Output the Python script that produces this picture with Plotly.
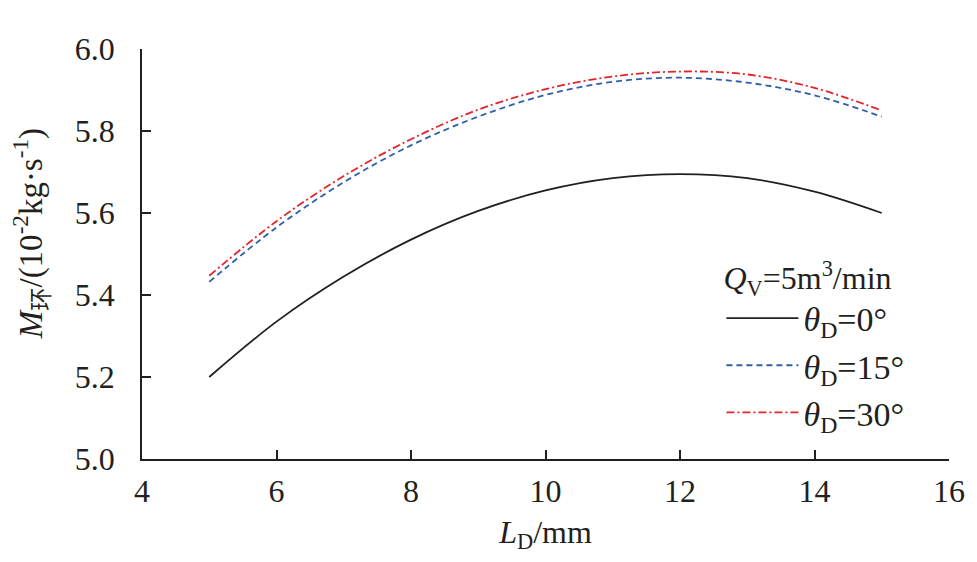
import plotly.graph_objects as go

# nozzle length L_D (mm)
ld = [5, 6, 7, 8, 9, 10, 11, 12, 13, 14, 15]

# mass flow M (10^-2 kg/s) for each nozzle angle
m_0 = [5.200, 5.335, 5.445, 5.535, 5.605, 5.655, 5.685, 5.695, 5.685, 5.652, 5.600]
m_15 = [5.432, 5.565, 5.675, 5.765, 5.835, 5.888, 5.920, 5.930, 5.918, 5.887, 5.835]
m_30 = [5.447, 5.580, 5.690, 5.780, 5.852, 5.902, 5.933, 5.945, 5.938, 5.905, 5.850]

names = ["<i>θ</i><sub>D</sub>=0°", "<i>θ</i><sub>D</sub>=15°", "<i>θ</i><sub>D</sub>=30°"]

ink = "#231f20"
font = "Liberation Serif, Noto Sans CJK SC, serif"

fig = go.Figure()
fig.add_trace(go.Scatter(x=ld, y=m_0, mode="lines", name=names[0],
                         line=dict(color=ink, width=1.8, shape="spline")))
fig.add_trace(go.Scatter(x=ld, y=m_15, mode="lines", name=names[1],
                         line=dict(color="#2f5fa8", width=1.8, dash="6px,4px", shape="spline")))
fig.add_trace(go.Scatter(x=ld, y=m_30, mode="lines", name=names[2],
                         line=dict(color="#e0262b", width=1.8, dash="8px,3px,2px,3px", shape="spline")))

# page body has an 8px margin, so margins are shifted to compensate
fig.update_layout(
    width=977, height=562,
    margin=dict(l=134, r=36, t=41, b=111, autoexpand=False),
    paper_bgcolor="white", plot_bgcolor="white",
    font=dict(family=font, size=32, color=ink),
    legend=dict(
        x=0.718, y=0.515, xanchor="left", yanchor="top",
        bgcolor="rgba(0,0,0,0)",
        title=dict(text="<i>Q</i><sub>V</sub>=5m<sup>3</sup>/min", font=dict(size=32)),
        font=dict(size=34),
        tracegroupgap=0, itemwidth=72,
    ),
    xaxis=dict(
        range=[4, 16], tickvals=[4, 6, 8, 10, 12, 14, 16],
        showline=True, linecolor=ink, linewidth=1.5, mirror=False,
        ticks="inside", ticklen=9, tickwidth=1.5, tickcolor=ink,
        showgrid=False, zeroline=False, automargin=False,
        tickfont=dict(size=32), ticklabelstandoff=3,
        title=dict(text="<i>L</i><sub>D</sub>/mm", standoff=12, font=dict(size=32)),
    ),
    yaxis=dict(
        range=[5.0, 6.0], tickvals=[5.0, 5.2, 5.4, 5.6, 5.8, 6.0], tickformat=".1f",
        showline=True, linecolor=ink, linewidth=1.5, mirror=False,
        ticks="inside", ticklen=9, tickwidth=1.5, tickcolor=ink,
        showgrid=False, zeroline=False, automargin=False,
        tickfont=dict(size=32), ticklabelstandoff=19,
    ),
    annotations=[dict(
        text="<i>M</i><sub>环</sub>/(10<sup>-2</sup>kg·s<sup>-1</sup>)",
        xref="paper", yref="paper", x=-0.138, y=0.55,
        xanchor="center", yanchor="middle", textangle=-90,
        showarrow=False, font=dict(size=33),
    )],
)

fig.write_html("out.html")
